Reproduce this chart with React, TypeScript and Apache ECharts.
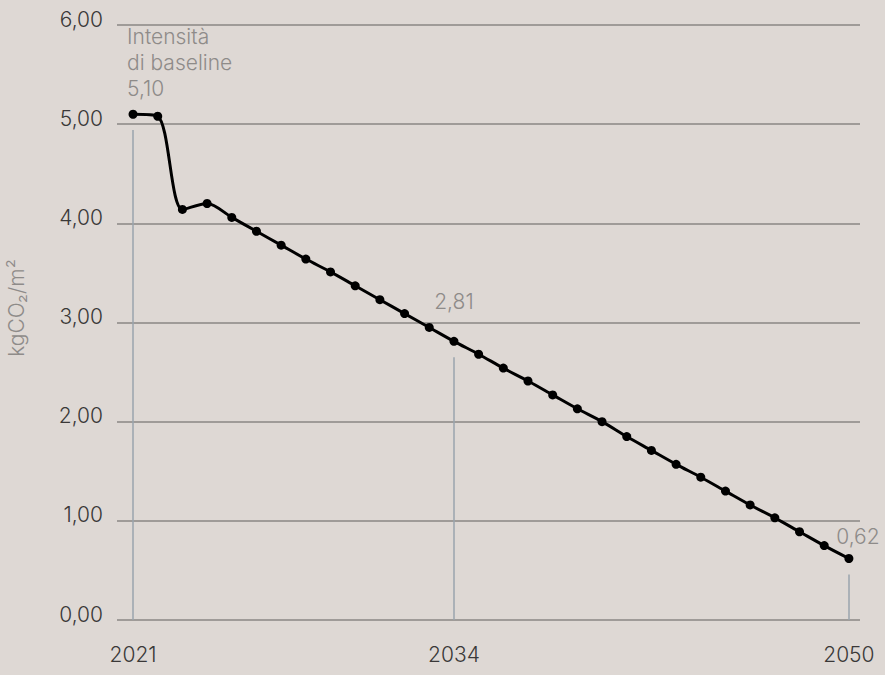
import React, { useEffect, useRef } from "react";
import * as echarts from "echarts";

const years = [
  2021, 2022, 2023, 2024, 2025, 2026, 2027, 2028, 2029, 2030,
  2031, 2032, 2033, 2034, 2035, 2036, 2037, 2038, 2039, 2040,
  2041, 2042, 2043, 2044, 2045, 2046, 2047, 2048, 2049, 2050,
];
const intensity = [
  5.10, 5.08, 4.14, 4.20, 4.06, 3.92, 3.78, 3.64, 3.51, 3.37,
  3.23, 3.09, 2.95, 2.81, 2.68, 2.54, 2.41, 2.27, 2.13, 2.0,
  1.85, 1.71, 1.57, 1.44, 1.30, 1.16, 1.03, 0.89, 0.75, 0.62,
];
const xTickLabels = [2021, 2034, 2050];
const yTicks = [0, 1, 2, 3, 4, 5, 6];
const baselineCaption = "Intensità\ndi baseline";
const yAxisTitle = "kgCO₂/m²";

const fmt = (v: number) => v.toFixed(2).replace(".", ",");

const FONT = "Inter, 'Noto Sans', sans-serif";
const GREY_TEXT = "#8e8b89";
const DARK_TEXT = "#3a3838";
const FS = 21;
const FW = 300;

export default function App() {
  const ref = useRef<HTMLDivElement>(null);
  useEffect(() => {
    if (!ref.current) return;
    const chart = echarts.init(ref.current, null, { renderer: "svg" });

    const firstIdx = 0;
    const midIdx = years.indexOf(2034);
    const lastIdx = years.length - 1;

    const data = years.map((y, i) => {
      const item: any = { value: [y, intensity[i]] };
      if (i === firstIdx) {
        item.label = {
          show: true,
          position: "top",
          align: "left",
          distance: 8,
          offset: [-6, 0],
          formatter: baselineCaption + "\n" + fmt(intensity[i]),
        };
      } else if (i === midIdx) {
        item.label = {
          show: true,
          position: "top",
          distance: 22,
          formatter: fmt(intensity[i]),
        };
      } else if (i === lastIdx) {
        item.label = {
          show: true,
          position: "top",
          distance: 5,
          offset: [9, 0],
          formatter: fmt(intensity[i]),
        };
      }
      return item;
    });

    const gap = 0.16;
    const refLines = [firstIdx, midIdx, lastIdx].map((i) => [
      { coord: [years[i], 0] },
      { coord: [years[i], intensity[i] - gap] },
    ]);

    chart.setOption({
      animation: false,
      backgroundColor: "#ded8d4",
      textStyle: { fontFamily: FONT, fontWeight: FW },
      grid: { left: 117, right: 25, top: 25, bottom: 55 },
      xAxis: {
        type: "value",
        min: 2020.35,
        max: 2050.45,
        axisLine: { show: false },
        axisTick: { show: false },
        splitLine: { show: false },
        axisLabel: {
          customValues: xTickLabels,
          formatter: (v: number) => String(v),
          color: DARK_TEXT,
          fontSize: FS,
          fontWeight: FW,
          fontFamily: FONT,
          margin: 24,
        },
      },
      yAxis: {
        type: "value",
        min: yTicks[0],
        max: yTicks[yTicks.length - 1],
        interval: 1,
        axisLine: { show: false },
        axisTick: { show: false },
        splitLine: { lineStyle: { color: "#8a8785", width: 1.5 } },
        axisLabel: {
          formatter: (v: number) => fmt(v),
          color: DARK_TEXT,
          fontSize: FS,
          fontWeight: FW,
          fontFamily: FONT,
          margin: 14,
          verticalAlign: "bottom",
          lineHeight: 12,
        },
      },
      graphic: [
        {
          type: "text",
          x: 16,
          y: 308,
          rotation: Math.PI / 2,
          style: {
            text: yAxisTitle,
            fill: GREY_TEXT,
            font: `${FW} ${FS}px ${FONT}`,
            textAlign: "center",
            textVerticalAlign: "middle",
          },
        },
      ],
      series: [
        {
          type: "line",
          data,
          smooth: 0.3,
          symbol: "circle",
          symbolSize: 9,
          itemStyle: { color: "#000" },
          lineStyle: { color: "#000", width: 3 },
          label: {
            color: GREY_TEXT,
            fontSize: FS,
            fontWeight: FW,
            fontFamily: FONT,
            lineHeight: 26,
          },
          markLine: {
            silent: true,
            symbol: "none",
            label: { show: false },
            lineStyle: { color: "#9aa4ae", width: 1.5, type: "solid" },
            data: refLines,
            z: 1,
          },
          z: 3,
        },
      ],
    });
    return () => chart.dispose();
  }, []);

  return (
    <div
      ref={ref}
      style={{ position: "fixed", left: 0, top: 0, width: 885, height: 675 }}
    />
  );
}
